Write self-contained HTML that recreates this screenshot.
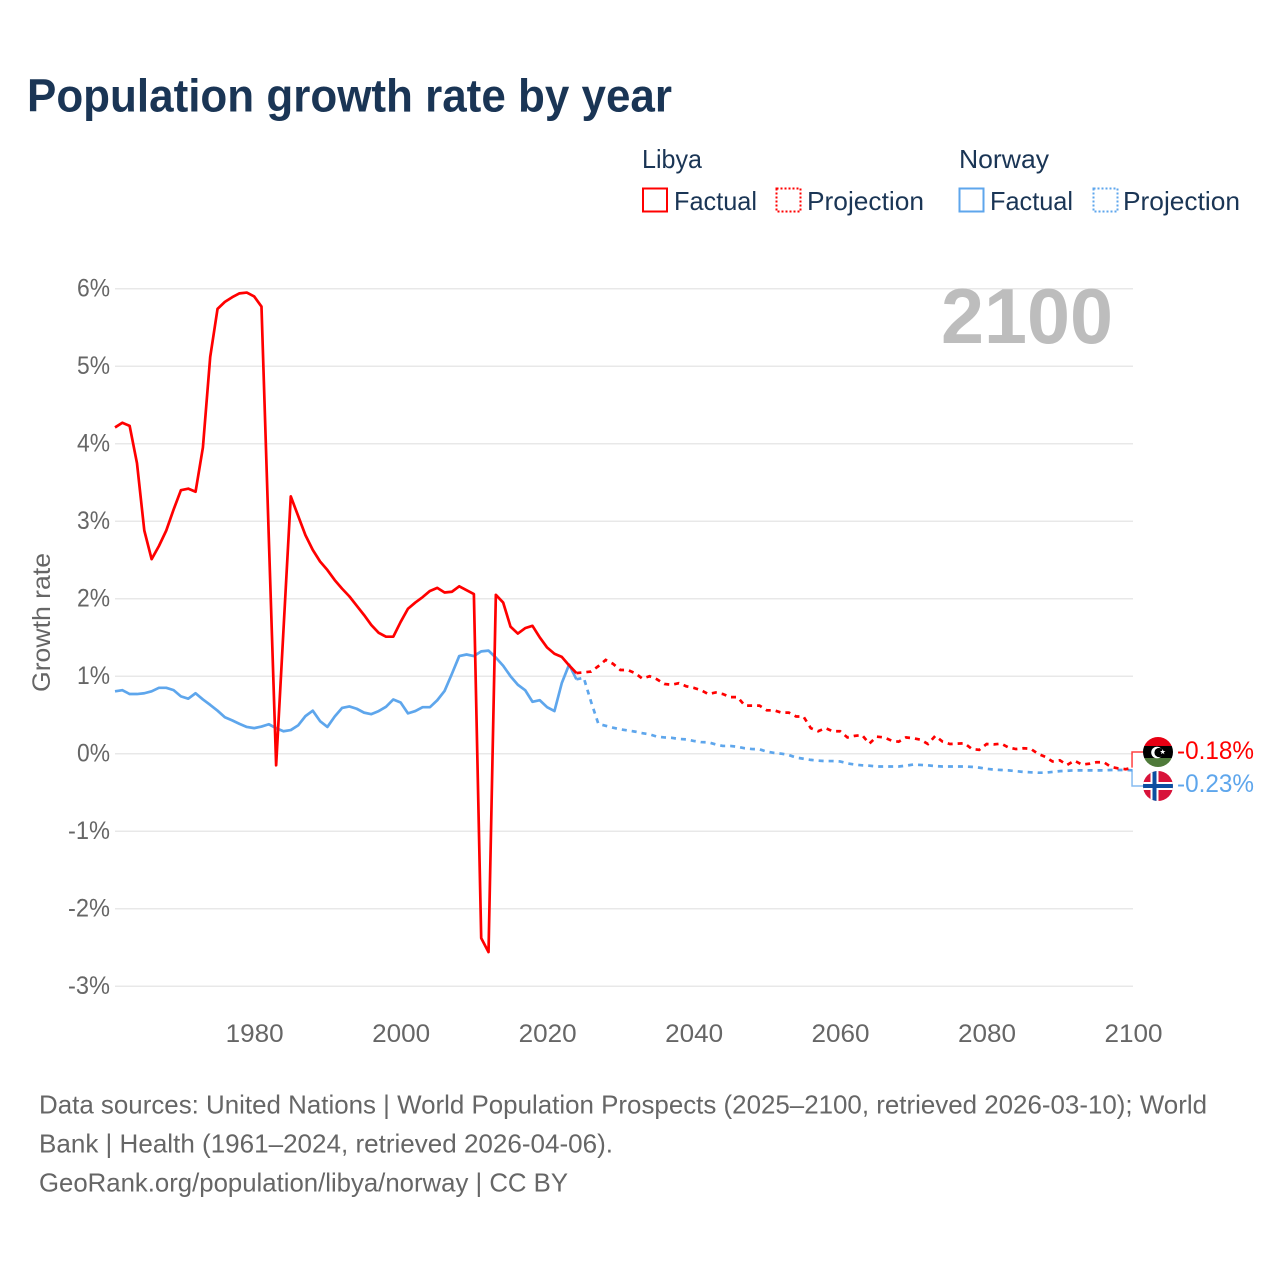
<!DOCTYPE html>
<html lang="en">
<head>
<meta charset="utf-8">
<title>Population growth rate by year</title>
<style>
html,body{margin:0;padding:0;background:#fff;width:1280px;height:1280px;overflow:hidden}
svg{display:block;font-family:"Liberation Sans",sans-serif}
</style>
</head>
<body>
<svg id="chart" xmlns="http://www.w3.org/2000/svg" width="1280" height="1280" viewBox="0 0 1280 1280">
  <rect x="0" y="0" width="1280" height="1280" fill="#fff"/>
  <text x="27" y="111.500" font-size="46" font-weight="700" fill="#1a3555" textLength="645" lengthAdjust="spacingAndGlyphs">Population growth rate by year</text>

  <g>
    <text x="642" y="168" font-size="26" fill="#1a3555" textLength="60" lengthAdjust="spacingAndGlyphs">Libya</text>
    <rect x="643" y="188.500" width="24" height="23" fill="none" stroke="#ff0000" stroke-width="2"/>
    <text x="674" y="210" font-size="26" fill="#1a3555" textLength="83" lengthAdjust="spacingAndGlyphs">Factual</text>
    <rect x="776.500" y="188.500" width="24" height="23" fill="none" stroke="#ff0000" stroke-width="2" stroke-dasharray="2 2"/>
    <text x="807" y="210" font-size="26" fill="#1a3555" textLength="117" lengthAdjust="spacingAndGlyphs">Projection</text>
    <text x="959" y="168" font-size="26" fill="#1a3555" textLength="90" lengthAdjust="spacingAndGlyphs">Norway</text>
    <rect x="959.500" y="188.500" width="24" height="23" fill="none" stroke="#5ea6ec" stroke-width="2"/>
    <text x="990" y="210" font-size="26" fill="#1a3555" textLength="83" lengthAdjust="spacingAndGlyphs">Factual</text>
    <rect x="1093.500" y="188.500" width="24" height="23" fill="none" stroke="#5ea6ec" stroke-width="2" stroke-dasharray="2 2"/>
    <text x="1123" y="210" font-size="26" fill="#1a3555" textLength="117" lengthAdjust="spacingAndGlyphs">Projection</text>
  </g>

  <g id="grid"></g>
  <g id="yticks"></g>
  <g id="xticks"></g>
  <text x="941" y="343" font-size="78" font-weight="700" fill="#bdbdbd" textLength="172" lengthAdjust="spacingAndGlyphs">2100</text>
  <text transform="translate(50,622.500) rotate(-90)" text-anchor="middle" font-size="25" fill="#666666" textLength="139" lengthAdjust="spacingAndGlyphs">Growth rate</text>
  <g id="series"></g>

  <g>
    <polyline id="connector-libya" fill="none" stroke="#ff0000" stroke-opacity="0.75" stroke-width="1.500"/>
    <polyline id="connector-norway" fill="none" stroke="#5ea6ec" stroke-opacity="0.75" stroke-width="1.500"/>
    <defs>
      <clipPath id="flag-clip-ly"><circle cx="1158" cy="752" r="15"/></clipPath>
      <clipPath id="flag-clip-no"><circle cx="1158" cy="786" r="15"/></clipPath>
    </defs>
    <g clip-path="url(#flag-clip-ly)">
      <rect x="1143" y="737" width="30" height="9" fill="#e70013"/>
      <rect x="1143" y="746" width="30" height="12" fill="#000"/>
      <rect x="1143" y="758" width="30" height="9" fill="#4f7a3a"/>
      <circle cx="1157" cy="752.500" r="5.800" fill="#fff"/>
      <circle cx="1159" cy="752.500" r="4.600" fill="#000"/>
      <polygon points="1162.700,749 1163.400,751 1165.500,751 1163.800,752.200 1164.400,754.200 1162.700,753 1161,754.200 1161.600,752.200 1159.900,751 1162,751" fill="#fff"/>
    </g>
    <g clip-path="url(#flag-clip-no)">
      <rect x="1143" y="771" width="30" height="30" fill="#d8133a"/>
      <rect x="1150.500" y="771" width="8" height="30" fill="#fff"/>
      <rect x="1143" y="782" width="30" height="8" fill="#fff"/>
      <rect x="1152.500" y="771" width="4" height="30" fill="#0c4ea0"/>
      <rect x="1143" y="784" width="30" height="4" fill="#0c4ea0"/>
    </g>
    <text x="1177" y="759" font-size="25" fill="#ff0000" textLength="77" lengthAdjust="spacingAndGlyphs">-0.18%</text>
    <text x="1177" y="792" font-size="25" fill="#5ea6ec" textLength="77" lengthAdjust="spacingAndGlyphs">-0.23%</text>
  </g>

  <g>
    <text x="39" y="1113.500" font-size="26" fill="#666666" textLength="1168" lengthAdjust="spacingAndGlyphs">Data sources: United Nations | World Population Prospects (2025–2100, retrieved 2026-03-10); World</text>
    <text x="39" y="1152.500" font-size="26" fill="#666666" textLength="574" lengthAdjust="spacingAndGlyphs">Bank | Health (1961–2024, retrieved 2026-04-06).</text>
    <text x="39" y="1191.500" font-size="26" fill="#666666" textLength="529" lengthAdjust="spacingAndGlyphs">GeoRank.org/population/libya/norway | CC BY</text>
  </g>
</svg>
<script>
const yTickValues = [6, 5, 4, 3, 2, 1, 0, -1, -2, -3];
const xTickValues = [1980, 2000, 2020, 2040, 2060, 2080, 2100];
const factualStartYear = 1961;
const projectionStartYear = 2024;

const libyaFactual = [4.21,4.27,4.23,3.75,2.88,2.51,2.68,2.88,3.15,3.40,3.42,3.38,3.95,5.12,5.74,5.83,5.89,5.94,5.95,5.90,5.77,2.79,-0.15,1.59,3.32,3.07,2.82,2.63,2.48,2.37,2.24,2.13,2.03,1.91,1.79,1.66,1.56,1.51,1.51,1.70,1.87,1.95,2.02,2.10,2.14,2.08,2.09,2.16,2.11,2.06,-2.38,-2.56,2.05,1.95,1.64,1.55,1.62,1.65,1.50,1.37,1.29,1.25,1.14,1.04];
const libyaProjection = [1.04,1.05,1.06,1.13,1.21,1.16,1.08,1.08,1.04,0.97,1.00,0.96,0.90,0.89,0.91,0.87,0.85,0.82,0.77,0.79,0.77,0.73,0.73,0.62,0.62,0.62,0.56,0.56,0.53,0.53,0.48,0.48,0.33,0.29,0.33,0.29,0.29,0.21,0.23,0.24,0.13,0.22,0.21,0.17,0.155,0.21,0.20,0.18,0.125,0.23,0.155,0.125,0.13,0.135,0.06,0.05,0.125,0.12,0.13,0.08,0.06,0.07,0.065,0.0,-0.04,-0.10,-0.085,-0.145,-0.09,-0.14,-0.13,-0.11,-0.11,-0.17,-0.19,-0.20,-0.18];
const norwayFactual = [0.805,0.82,0.77,0.77,0.78,0.805,0.85,0.85,0.82,0.74,0.71,0.78,0.70,0.63,0.555,0.47,0.43,0.385,0.345,0.33,0.35,0.38,0.33,0.29,0.305,0.365,0.485,0.555,0.42,0.345,0.48,0.59,0.61,0.58,0.53,0.51,0.55,0.605,0.70,0.66,0.52,0.55,0.60,0.60,0.69,0.81,1.03,1.26,1.28,1.26,1.32,1.33,1.24,1.135,1.0,0.89,0.82,0.67,0.69,0.60,0.55,0.91,1.15,0.96];
const norwayProjection = [0.96,0.98,0.67,0.385,0.36,0.335,0.315,0.30,0.285,0.265,0.25,0.22,0.21,0.205,0.19,0.185,0.165,0.15,0.147,0.12,0.10,0.10,0.09,0.07,0.06,0.057,0.026,0.01,0.0,-0.017,-0.05,-0.065,-0.08,-0.09,-0.095,-0.095,-0.10,-0.125,-0.14,-0.15,-0.155,-0.165,-0.165,-0.165,-0.165,-0.155,-0.14,-0.145,-0.15,-0.16,-0.165,-0.165,-0.165,-0.165,-0.17,-0.18,-0.195,-0.205,-0.21,-0.215,-0.225,-0.235,-0.24,-0.245,-0.245,-0.235,-0.225,-0.22,-0.215,-0.215,-0.215,-0.215,-0.215,-0.21,-0.21,-0.21,-0.215];

const NS = 'http://www.w3.org/2000/svg';
const xScale = year => 115 + (year - 1961) * 7.324;
const yScale = value => 753.7 - value * 77.5;
const gridGroup = document.getElementById('grid');
const yTickGroup = document.getElementById('yticks');
const xTickGroup = document.getElementById('xticks');
const seriesGroup = document.getElementById('series');

yTickValues.forEach(value => {
  const line = document.createElementNS(NS, 'line');
  line.setAttribute('x1', 115);
  line.setAttribute('x2', 1133);
  line.setAttribute('y1', yScale(value));
  line.setAttribute('y2', yScale(value));
  line.setAttribute('stroke', '#e8e8e8');
  line.setAttribute('stroke-width', 1.5);
  
  
  gridGroup.appendChild(line);

  const label = document.createElementNS(NS, 'text');
  label.textContent = value + '%';
  label.setAttribute('x', value < 0 ? 68 : 77);
  label.setAttribute('y', yScale(value) + 8);
  label.setAttribute('font-size', 25);
  label.setAttribute('fill', '#666666');
  label.setAttribute('textLength', value < 0 ? 42 : 33);
  label.setAttribute('lengthAdjust', 'spacingAndGlyphs');
  
  
  yTickGroup.appendChild(label);
});

xTickValues.forEach(year => {
  const label = document.createElementNS(NS, 'text');
  label.textContent = String(year);
  label.setAttribute('x', xScale(year) - 28.5);
  label.setAttribute('y', 1042);
  label.setAttribute('font-size', 25);
  label.setAttribute('fill', '#666666');
  label.setAttribute('textLength', 58);
  label.setAttribute('lengthAdjust', 'spacingAndGlyphs');
  
  
  xTickGroup.appendChild(label);
});

function linePoints(values, startYear) {
  return values.map((value, i) => xScale(startYear + i).toFixed(2) + ',' + yScale(value).toFixed(2)).join(' ');
}

const norwayProjectionLine = document.createElementNS(NS, 'polyline');
norwayProjectionLine.setAttribute('points', linePoints(norwayProjection, projectionStartYear));
norwayProjectionLine.setAttribute('fill', 'none');
norwayProjectionLine.setAttribute('stroke', '#5ea6ec');
norwayProjectionLine.setAttribute('stroke-width', 2.7);
norwayProjectionLine.setAttribute('stroke-dasharray', '5 5');


seriesGroup.appendChild(norwayProjectionLine);

const libyaProjectionLine = document.createElementNS(NS, 'polyline');
libyaProjectionLine.setAttribute('points', linePoints(libyaProjection, projectionStartYear));
libyaProjectionLine.setAttribute('fill', 'none');
libyaProjectionLine.setAttribute('stroke', '#ff0000');
libyaProjectionLine.setAttribute('stroke-width', 2.7);
libyaProjectionLine.setAttribute('stroke-dasharray', '5 5');


seriesGroup.appendChild(libyaProjectionLine);

const libyaFactualLine = document.createElementNS(NS, 'polyline');
libyaFactualLine.setAttribute('points', linePoints(libyaFactual, factualStartYear));
libyaFactualLine.setAttribute('fill', 'none');
libyaFactualLine.setAttribute('stroke', '#ff0000');
libyaFactualLine.setAttribute('stroke-width', 2.7);
libyaFactualLine.setAttribute('stroke-linejoin', 'round');


seriesGroup.appendChild(libyaFactualLine);

const norwayFactualLine = document.createElementNS(NS, 'polyline');
norwayFactualLine.setAttribute('points', linePoints(norwayFactual, factualStartYear));
norwayFactualLine.setAttribute('fill', 'none');
norwayFactualLine.setAttribute('stroke', '#5ea6ec');
norwayFactualLine.setAttribute('stroke-width', 2.7);
norwayFactualLine.setAttribute('stroke-linejoin', 'round');


seriesGroup.insertBefore(norwayFactualLine, libyaFactualLine);

const endX = xScale(2100) - 1;
const libyaEndY = yScale(libyaProjection[libyaProjection.length - 1]);
const norwayEndY = yScale(norwayProjection[norwayProjection.length - 1]);
document.getElementById('connector-libya').setAttribute('points', endX + ',' + libyaEndY + ' ' + endX + ',752 1143,752');
document.getElementById('connector-norway').setAttribute('points', endX + ',' + norwayEndY + ' ' + endX + ',786 1143,786');
</script>
</body>
</html>
